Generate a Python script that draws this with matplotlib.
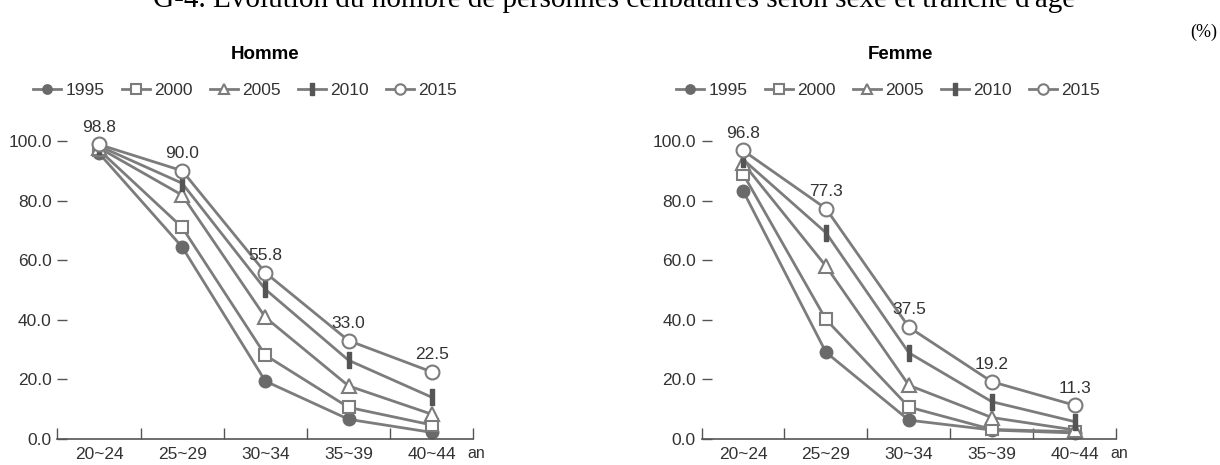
import numpy as np
import matplotlib
matplotlib.use("Agg")
import matplotlib.pyplot as plt

plt.rcParams['font.family'] = ['Liberation Sans', 'DejaVu Sans']

# données
categories = ['20~24', '25~29', '30~34', '35~39', '40~44']
annees = ['1995', '2000', '2005', '2010', '2015']

homme = {
    '1995': [95.9, 64.4, 19.4, 6.6, 2.2],
    '2000': [97.0, 71.0, 28.1, 10.6, 4.7],
    '2005': [97.7, 81.8, 40.8, 17.8, 8.3],
    '2010': [98.3, 85.8, 50.2, 26.4, 14.0],
    '2015': [98.8, 90.0, 55.8, 33.0, 22.5],
}
femme = {
    '1995': [83.3, 29.1, 6.3, 3.0, 2.0],
    '2000': [89.0, 40.1, 10.7, 3.2, 2.4],
    '2005': [92.6, 58.0, 18.0, 7.2, 3.0],
    '2010': [93.8, 69.2, 28.9, 12.5, 5.8],
    '2015': [96.8, 77.3, 37.5, 19.2, 11.3],
}

gris = '#7c7c7c'
barre = [(-0.28, -1), (0.28, -1), (0.28, 1), (-0.28, 1), (-0.28, -1)]
styles = {
    '1995': dict(marker='o', mfc='#6a6a6a', mec='#6a6a6a', ms=9),
    '2000': dict(marker='s', mfc='white', mec=gris, ms=9, mew=1.5),
    '2005': dict(marker='^', mfc='white', mec=gris, ms=10, mew=1.5),
    '2010': dict(marker=barre, mfc='#555555', mec='#555555', ms=12),
    '2015': dict(marker='o', mfc='white', mec=gris, ms=10, mew=1.5),
}

fig = plt.figure(figsize=(12.2, 4.65), dpi=100)
# titre coupé en haut comme sur l'original
fig.text(0.503, 0.985, "G-4. Évolution du nombre de personnes célibataires selon sexe et tranche d'âge",
         ha='center', va='baseline', fontsize=21, family='Liberation Serif')
fig.text(0.998, 0.93, '(%)', ha='right', va='center', fontsize=13, family='Liberation Serif')

axes_pos = [[0.047, 0.056, 0.341, 0.673], [0.575, 0.056, 0.340, 0.673]]
panneaux = [('Homme', homme, 0.217, 0.201), ('Femme', femme, 0.738, 0.728)]

x = np.arange(len(categories))
for pos, (titre, donnees, xt, xl) in zip(axes_pos, panneaux):
    ax = fig.add_axes(pos)
    lignes = []
    for a in annees:
        l, = ax.plot(x, donnees[a], color=gris, lw=2, label=a, **styles[a])
        lignes.append(l)
    for xi, v in zip(x, donnees['2015']):
        ax.annotate(f'{v:.1f}', (xi, v), xytext=(0, 7), textcoords='offset points',
                    ha='center', va='bottom', fontsize=12.5, color='#333333')
    ax.set_xlim(-0.5, 4.5)
    ax.set_ylim(0, 105)
    ax.set_yticks([0, 20, 40, 60, 80, 100])
    ax.set_yticklabels([f'{v:.1f}' for v in [0, 20, 40, 60, 80, 100]])
    ax.set_xticks(x)
    ax.set_xticklabels(categories)
    ax.set_xticks(np.arange(-0.5, 5, 1), minor=True)
    for s in ['top', 'right', 'left']:
        ax.spines[s].set_visible(False)
    ax.spines['bottom'].set_color('#555555')
    ax.spines['bottom'].set_linewidth(1.2)
    ax.tick_params(axis='y', direction='in', length=7, width=1, color='#555555',
                   labelsize=12.5, labelcolor='#333333', pad=4)
    ax.tick_params(axis='x', which='major', length=0, labelsize=12.5,
                   labelcolor='#333333', pad=6)
    ax.tick_params(axis='x', which='minor', direction='in', length=8, width=1, color='#555555')
    ax.text(0.985, -0.045, 'an', transform=ax.transAxes, fontsize=11.5, color='#333333',
            ha='left', va='center')
    ax.patch.set_alpha(0)
    for l in lignes:
        l.set_clip_on(False)
    fig.text(xt, 0.883, titre, ha='center', va='center', fontsize=13.5, fontweight='bold')
    fig.legend(lignes, annees, loc='center', bbox_to_anchor=(xl, 0.806), ncol=5,
               frameon=False, fontsize=12.5, handlelength=1.6, handletextpad=0.25,
               columnspacing=1.0, labelcolor='#333333', markerscale=0.75)

fig.savefig('out.png', dpi=100)
